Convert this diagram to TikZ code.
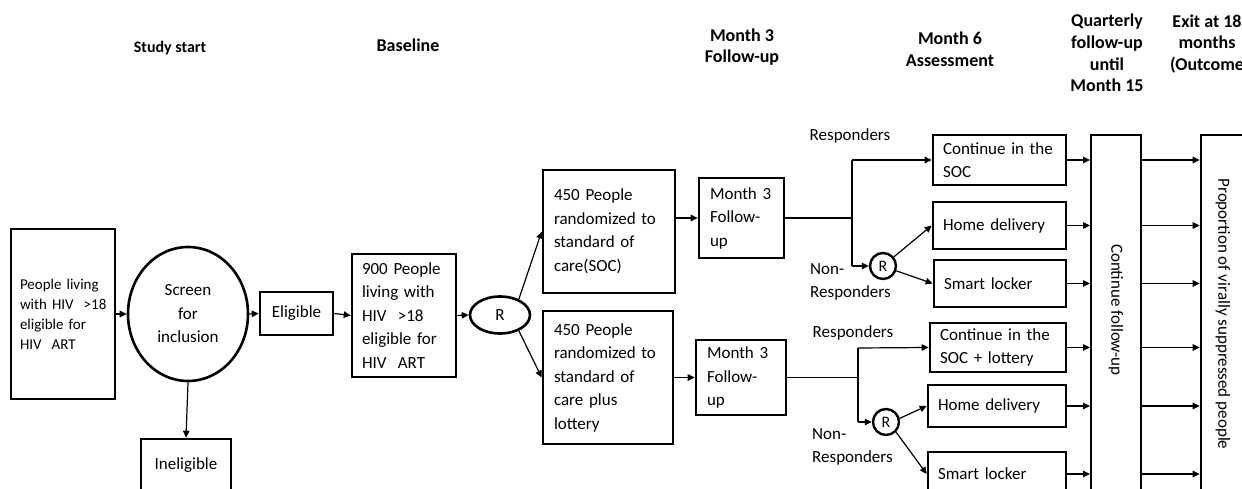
\documentclass[tikz,border=0pt]{standalone}
\usepackage{fontspec}
\setmainfont{Carlito}
\usetikzlibrary{arrows.meta,shapes.geometric}
\newcommand{\bodyfont}{\fontsize{17}{23.5}\selectfont}
\newcommand{\smallbody}{\fontsize{15}{20}\selectfont}
\newcommand{\headfont}{\bfseries\fontsize{18}{21.7}\selectfont}
\tikzset{
  bx/.style={draw, line width=2.6pt, align=left, inner ysep=0pt, font=\bodyfont},
  cbx/.style={draw, line width=2.6pt, align=center, inner sep=0pt, font=\bodyfont},
  oval/.style={draw, ellipse, line width=2.6pt, align=center, inner sep=0pt, font=\bodyfont},
  rc/.style={draw, circle, line width=2.4pt, inner sep=0pt, minimum size=26pt, font=\fontsize{16}{18}\selectfont},
  hd/.style={align=center, font=\headfont, inner sep=0pt},
  lbl/.style={align=left, font=\bodyfont, inner sep=0pt},
  conn/.style={line width=1.2pt},
  arr/.style={line width=1.2pt, -{Triangle[length=7pt,width=6.5pt]}},
}
\begin{document}
\begin{tikzpicture}[x=1pt,y=-1pt]
\useasboundingbox (0,0) rectangle (1242,489);
\clip (0,0) rectangle (1242,489);
\fill[white] (0,0) rectangle (1242,489);

% headers
\node[hd, font=\bfseries\fontsize{16}{20}\selectfont] (h1) at (170,48) {Study start};
\node[hd] (h2) at (408,45) {Baseline};
\node[hd] (h3) at (742,47) {Month 3\\Follow-up};
\node[hd] (h4) at (950,49) {Month 6\\Assessment};
\node[hd] (h5) at (1107,53) {Quarterly\\follow-up\\until\\Month 15};
\node[hd] (h6) at (1207,44) {Exit at 18\\months\\(Outcome};

% left part
\node[bx, font=\smallbody, minimum width=104pt, minimum height=170pt, inner xsep=9pt, text width=86pt] (start) at (63,314)
  {People living\\with~HIV~~>18\\eligible for\\HIV~~ART};
\node[oval, minimum width=120pt, minimum height=134pt] (screen) at (188,314) {Screen\\for\\inclusion};
\node[cbx, minimum width=73pt, minimum height=43pt] (elig) at (296.5,313.5) {Eligible};
\node[cbx, minimum width=90pt, minimum height=52pt] (inel) at (186,465) {Ineligible};
\node[bx, minimum width=104pt, minimum height=123pt, inner xsep=10pt, text width=84pt] (base) at (404,315.5)
  {900 People\\living with\\HIV~~>18\\eligible for\\HIV~~ART};
\node[oval, minimum width=60pt, minimum height=37pt] (r1) at (500,315) {R};

% arms
\node[bx, minimum width=132pt, minimum height=123pt, inner xsep=11pt, text width=110pt] (soc) at (609,231.5)
  {450 People\\randomized to\\standard of\\care(SOC)};
\node[bx, minimum width=130pt, minimum height=133pt, inner xsep=11pt, text width=108pt] (lot) at (608,377.5)
  {450 People\\randomized to\\standard of\\care plus\\lottery};
\node[bx, minimum width=85pt, minimum height=80pt, inner xsep=11pt, text width=63pt] (m3a) at (741.5,218)
  {Month 3\\Follow-\\up};
\node[bx, minimum width=90pt, minimum height=75pt, inner xsep=11pt, text width=68pt] (m3b) at (741,377.5)
  {Month 3\\Follow-\\up};

\node[rc] (r2) at (883,266) {R};
\node[rc] (r3) at (886,422) {R};

% month 6 boxes
\node[bx, minimum width=133pt, minimum height=50pt, inner xsep=10pt, text width=113pt] (c1) at (999.5,160) {Continue in the\\SOC};
\node[bx, minimum width=133pt, minimum height=47pt, inner xsep=10pt, text width=113pt] (hd1) at (999.5,225.5) {Home delivery};
\node[bx, minimum width=132pt, minimum height=47pt, inner xsep=10pt, text width=112pt] (sl1) at (1000,283.5) {Smart locker};
\node[bx, minimum width=136pt, minimum height=49pt, inner xsep=10pt, text width=116pt] (c2) at (998,347.5) {Continue in the\\SOC + lottery};
\node[bx, minimum width=138pt, minimum height=42pt, inner xsep=10pt, text width=118pt] (hd2) at (997,406) {Home delivery};
\node[bx, minimum width=138pt, minimum height=44pt, inner xsep=10pt, text width=118pt] (sl2) at (997,474) {Smart locker};

\node[draw, line width=2pt, minimum width=50pt, minimum height=360pt, inner sep=0pt] (fol) at (1116,315) {};
\node[rotate=-90, font=\bodyfont, inner sep=0pt] (folt) at (1116,310) {Continue follow-up};
\node[draw, line width=2.6pt, minimum width=46pt, minimum height=360pt, inner sep=0pt] (prop) at (1224,315) {};
\node[rotate=-90, font=\bodyfont, inner sep=0pt] (propt) at (1223,314) {Proportion of virally suppressed people};

% labels
\node[font=\bodyfont, inner sep=0pt] (resp1) at (850,136) {Responders};
\node[lbl, anchor=west] (nresp1) at (810,282) {Non-\\Responders};
\node[font=\bodyfont, inner sep=0pt] (resp2) at (853,333) {Responders};
\node[lbl, anchor=west] (nresp2) at (812,447) {Non-\\Responders};

% connectors left
\draw[arr] (start.east) -- (screen.west);
\draw[arr] (screen.east) -- (elig.west);
\draw[arr] (elig.east) -- (base.west);
\draw[arr] (base.east) -- (r1.west);
\draw[arr] (screen.south) -- (inel.north);
\draw[arr] (r1.40) -- (soc.west);
\draw[arr] (r1.-40) -- (lot.west);
\draw[arr] (m3a.west -| soc.east) -- (m3a.west);
\draw[arr] (lot.east) -- (m3b.west);

% branching
\coordinate (j1t) at (852,160);
\coordinate (j1b) at (852,266);
\coordinate (j2t) at (858,348);
\coordinate (j2b) at (858,422);
\draw[conn] (m3a.east) -- (m3a.east -| j1t);
\draw[conn] (j1t) -- (j1b);
\draw[arr] (j1t) -- (c1.west);
\draw[arr] (j1b) -- (r2.west);
\draw[arr] (r2.40) -- (hd1.west);
\draw[arr] (r2.-20) -- (sl1.west);

\draw[conn] (m3b.east) -- (m3b.east -| j2t);
\draw[conn] (j2t) -- (j2b);
\draw[arr] (j2t) -- (c2.west);
\draw[arr] (j2b) -- (r3.west);
\draw[arr] (r3.15) -- (hd2.west);
\draw[arr] (r3.-45) -- (sl2.west);

% into follow-up and outcome
\foreach \b in {c1,hd1,sl1,c2,hd2,sl2}{
  \draw[arr] (\b.east) -- (\b.east -| fol.west);
  \draw[arr] (\b.east -| fol.east) -- (\b.east -| prop.west);
}
\end{tikzpicture}
\end{document}
